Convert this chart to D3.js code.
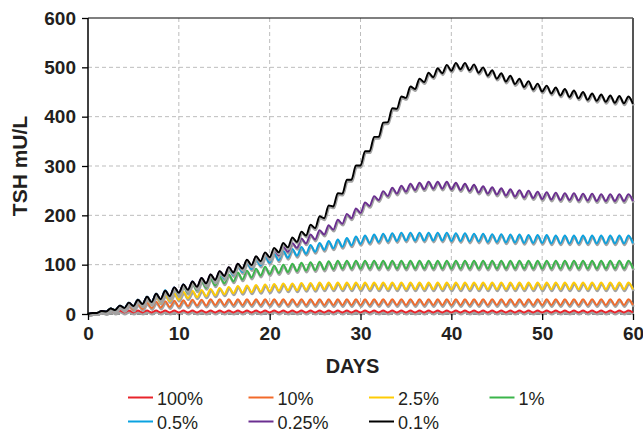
<!DOCTYPE html>
<html>
<head>
<meta charset="utf-8">
<script src="https://cdn.jsdelivr.net/npm/d3@7"></script>
<style>
  body { margin: 0; background: #fff; }
  svg { display: block; font-family: "Liberation Sans", Arial, sans-serif; }
</style>
</head>
<body>
<div id="chart"></div>
<script>
// Series: "lo" = value at day d, "hi" = value at day d + 0.5
var seriesNames = ["100%", "10%", "2.5%", "1%", "0.5%", "0.25%", "0.1%"];
var seriesColors = ["#e8242b", "#f26a2a", "#ffcc05", "#3bb54a", "#0aa2e0", "#6b2f90", "#000000"];

var redLo = [0,2,2,3,3,3,3,3,3,3, 3,3,3,3,3,3,3,3,3,3, 3,3,3,3,3,3,3,3,3,3,
  3,3,3,3,3,3,3,3,3,3, 3,3,3,3,3,3,3,3,3,3, 3,3,3,3,3,3,3,3,3,3, 3];
var redHi = [2,5,7,7,7,7,7,7,7,7, 7,7,7,7,7,7,7,7,7,7, 7,7,7,7,7,7,7,7,7,7,
  7,7,7,7,7,7,7,7,7,7, 7,7,7,7,7,7,7,7,7,7, 7,7,7,7,7,7,7,7,7,7];

var orangeLo = [0,2,4,6,8,9,10,12,13,14, 15,16,17,17,18,18,18,18,18,18, 18,18,18,18,18,18,18,18,18,18,
  18,18,18,18,18,18,18,18,18,18, 18,18,18,18,18,18,18,18,18,18, 18,18,18,18,18,18,18,18,18,18, 18];
var orangeHi = [2,6,10,14,17,20,23,25,26,27, 28,29,29,30,30,30,30,30,30,30, 30,30,30,30,30,30,30,30,30,30,
  30,30,30,30,30,30,30,30,30,30, 30,30,30,30,30,30,30,30,30,30, 30,30,30,30,30,30,30,30,30,30];

var yellowLo = [0,2,5,8,11,14,17,20,23,26, 29,32,34,36,38,40,42,43,44,45, 46,47,48,48,49,49,50,50,50,50,
  50,50,50,50,50,50,50,50,50,50, 50,50,50,50,50,50,50,50,50,50, 50,50,50,50,50,50,50,50,50,50, 50];
var yellowHi = [2,6,11,16,21,26,31,36,39,42, 45,47,49,51,53,55,57,58,59,60, 61,62,62,63,63,64,64,64,64,64,
  64,64,64,64,64,64,64,64,64,64, 64,64,64,64,64,64,64,64,64,64, 64,64,64,64,64,64,64,64,64,64];

var greenLo = [0,2,5,8,12,16,20,24,28,33, 38,43,48,53,58,62,66,70,74,78, 81,83,85,87,88,89,90,91,92,92,
  92,92,92,92,92,92,92,92,92,92, 92,92,92,92,92,92,92,92,92,92, 92,92,92,92,92,92,92,92,92,92, 92];
var greenHi = [2,6,11,17,23,29,35,41,47,52, 57,62,67,72,76,80,84,88,92,96, 98,100,102,104,105,106,107,108,108,108,
  108,108,108,108,108,108,108,108,108,108, 108,108,108,108,108,108,108,108,108,108, 108,108,108,108,108,108,108,108,108,108];

var blueLo = [0,2,5,8,12,16,20,24,29,35, 41,47,53,59,66,72,79,85,91,98, 104,109,114,118,122,126,130,133,136,139,
  142,144,146,147,148,149,149,149,149,149, 148,148,147,147,146,146,145,145,144,144, 144,143,143,143,143,143,143,143,143,143, 143];
var blueHi = [2,6,11,17,23,29,35,41,48,54, 60,66,72,79,85,92,98,104,111,117, 123,128,132,136,140,144,148,151,154,157,
  159,161,163,164,165,165,165,165,165,165, 164,164,163,163,162,162,161,161,160,160, 160,159,159,159,159,159,159,159,159,159];

var purpleLo = [0,2,5,8,12,16,20,24,30,36, 43,49,55,62,69,77,84,91,98,105, 112,119,126,134,143,151,161,171,183,194,
  205,219,231,239,244,248,251,253,254,254, 253,251,249,246,244,242,240,238,236,235, 233,232,231,231,230,230,229,229,229,229, 229];
var purpleHi = [2,6,11,17,23,29,35,41,47,54, 60,66,73,80,87,95,102,109,116,123, 130,137,144,153,161,170,180,191,203,214,
  226,239,249,256,260,264,266,268,268,268, 266,264,262,259,257,255,253,251,250,248, 247,246,245,245,244,244,243,243,243,243];

var blackLo = [0,2,5,8,12,16,20,24,30,36, 43,49,55,62,69,77,84,92,99,107, 115,125,135,146,159,174,194,218,244,272,
  301,330,359,389,416,438,456,470,480,488, 493,496,494,489,483,477,471,466,460,455, 451,447,443,440,437,434,432,430,428,427, 426];
var blackHi = [2,6,11,17,23,29,35,41,47,54, 60,66,73,80,87,95,102,110,117,125, 134,144,155,167,181,198,220,245,272,301,
  330,359,388,417,441,461,477,489,498,505, 509,509,506,500,494,488,483,477,472,467, 463,459,456,453,450,447,445,443,442,441];

var seriesLo = [redLo, orangeLo, yellowLo, greenLo, blueLo, purpleLo, blackLo];
var seriesHi = [redHi, orangeHi, yellowHi, greenHi, blueHi, purpleHi, blackHi];

var xTicks = [0, 10, 20, 30, 40, 50, 60];
var yTicks = [0, 100, 200, 300, 400, 500, 600];

function init() {
    var w = 643, h = 432;
    var left = 88, right = 633, top = 18, bottom = 314;

    var x = d3.scaleLinear().domain([0, 60]).range([left, right]);
    var y = d3.scaleLinear().domain([0, 600]).range([bottom, top]);

    var svg = d3.select("#chart").append("svg")
        .attr("width", w)
        .attr("height", h);

    // Dashed grid
    svg.append("g").selectAll("line")
        .data(yTicks.filter(function (d) { return d > 0 && d < 600; }))
        .enter().append("line")
        .attr("x1", left).attr("x2", right)
        .attr("y1", function (d) { return y(d); })
        .attr("y2", function (d) { return y(d); })
        .attr("stroke", "#bdbdbd").attr("stroke-width", 1)
        .attr("stroke-dasharray", "4,3");
    svg.append("g").selectAll("line")
        .data(xTicks.filter(function (d) { return d > 0 && d < 60; }))
        .enter().append("line")
        .attr("y1", top).attr("y2", bottom)
        .attr("x1", function (d) { return x(d); })
        .attr("x2", function (d) { return x(d); })
        .attr("stroke", "#bdbdbd").attr("stroke-width", 1)
        .attr("stroke-dasharray", "4,3");

    // Zero line (dashed, dark)
    svg.append("line")
        .attr("x1", left).attr("x2", right)
        .attr("y1", y(0)).attr("y2", y(0))
        .attr("stroke", "#222").attr("stroke-width", 1)
        .attr("stroke-dasharray", "4,3");

    // Frame: top and right
    svg.append("line")
        .attr("x1", left).attr("x2", right)
        .attr("y1", y(600)).attr("y2", y(600))
        .attr("stroke", "#000").attr("stroke-width", 1.2);
    svg.append("line")
        .attr("x1", x(60)).attr("x2", x(60))
        .attr("y1", y(600)).attr("y2", y(0))
        .attr("stroke", "#555").attr("stroke-width", 2);

    // Lines
    var line = d3.line()
        .x(function (d) { return x(d.day); })
        .y(function (d) { return y(d.v); })
        .curve(d3.curveMonotoneX);

    var lines = svg.append("g");
    seriesNames.forEach(function (name, k) {
        var pts = [];
        var lo = seriesLo[k], hi = seriesHi[k];
        for (var i = 0; i < lo.length; i++) {
            pts.push({ day: i, v: lo[i] });
            if (i < hi.length) pts.push({ day: i + 0.5, v: hi[i] });
        }
        // grey shadow under each line
        lines.append("path")
            .datum(pts)
            .attr("d", line)
            .attr("transform", "translate(0.6,1.6)")
            .attr("fill", "none")
            .attr("stroke", "#a3a3a3")
            .attr("stroke-width", 2.6);
        lines.append("path")
            .datum(pts)
            .attr("d", line)
            .attr("fill", "none")
            .attr("stroke", seriesColors[k])
            .attr("stroke-width", 1.9);
    });

    // Axes
    var yAxis = svg.append("g")
        .attr("transform", "translate(" + left + ",0)")
        .call(d3.axisLeft(y).tickValues(yTicks).tickSize(6).tickPadding(6));
    var xAxis = svg.append("g")
        .attr("transform", "translate(0," + bottom + ")")
        .call(d3.axisBottom(x).tickValues(xTicks).tickSize(6).tickPadding(7));

    xAxis.select(".domain").remove();
    yAxis.select(".domain")
        .attr("d", "M0," + top + "V" + (bottom + 1))
        .attr("stroke", "#000").attr("stroke-width", 1.5);

    [xAxis, yAxis].forEach(function (a) {
        a.selectAll(".tick line").attr("stroke", "#000").attr("stroke-width", 1.3);
        a.selectAll(".tick text")
            .attr("fill", "#231f20")
            .style("font-size", "19px")
            .style("font-weight", "bold")
            .style("font-family", '"Liberation Sans", Arial, sans-serif');
    });

    // Axis titles
    svg.append("text")
        .attr("x", (left + right) / 2 - 8)
        .attr("y", 373)
        .attr("text-anchor", "middle")
        .attr("fill", "#231f20")
        .style("font-size", "20px")
        .style("font-weight", "bold")
        .text("DAYS");
    svg.append("text")
        .attr("transform", "translate(27," + ((top + bottom) / 2) + ") rotate(-90)")
        .attr("text-anchor", "middle")
        .attr("fill", "#231f20")
        .style("font-size", "21px")
        .style("font-weight", "bold")
        .text("TSH mU/L");

    // Legend: 4 columns, 2 rows
    var legend = svg.append("g");
    seriesNames.forEach(function (name, k) {
        var col = k % 4, row = Math.floor(k / 4);
        var lx = 128 + col * 120.5;
        var ly = 397.5 + row * 24;
        legend.append("line")
            .attr("x1", lx).attr("x2", lx + 25)
            .attr("y1", ly).attr("y2", ly)
            .attr("stroke", seriesColors[k]).attr("stroke-width", 2);
        legend.append("text")
            .attr("x", lx + 29)
            .attr("y", ly + 7)
            .attr("fill", "#231f20")
            .style("font-size", "18px")
            .text(name);
    });
}

window.onload = init;
</script>
</body>
</html>
